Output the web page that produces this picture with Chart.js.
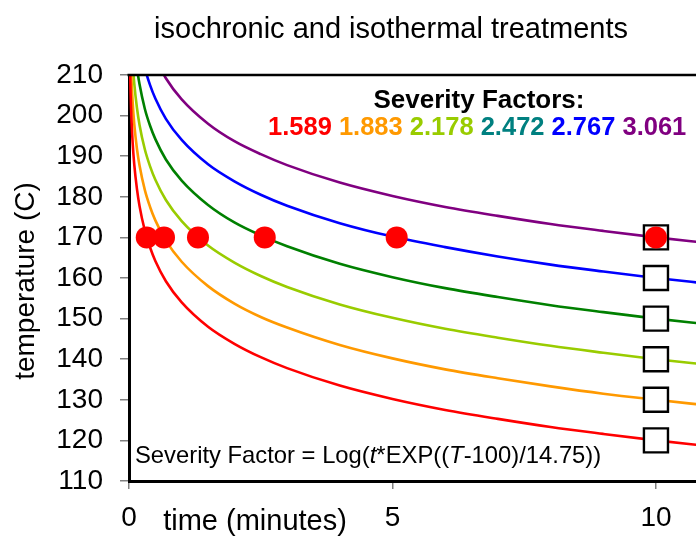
<!DOCTYPE html>
<html>
<head>
<meta charset="utf-8">
<script src="https://cdn.jsdelivr.net/npm/chart.js@4/dist/chart.umd.min.js"></script>
<style>
html,body{margin:0;padding:0;background:#fff;}
#wrap{width:696px;height:536px;position:relative;}
</style>
</head>
<body>
<div id="wrap"><canvas id="c" width="696" height="536"></canvas></div>
<script>
// ---- data ----
const times = [0.02,0.03,0.05,0.07,0.1,0.15,0.2,0.3,0.4,0.5,0.7,1,1.5,2,2.5,3,4,5,6,7,8,9,10,11];
const sf1589 = [211.7,205.7,198.2,193.2,187.9,182.0,177.7,171.7,167.5,164.2,159.2,154.0,148.0,143.8,140.5,137.8,133.5,130.2,127.5,125.3,123.3,121.6,120.0,118.6];
const sf1883 = [221.7,215.7,208.1,203.2,197.9,191.9,187.7,181.7,177.5,174.2,169.2,164.0,158.0,153.7,150.4,147.8,143.5,140.2,137.5,135.3,133.3,131.5,130.0,128.6];
const sf2178 = [231.7,225.7,218.2,213.2,207.9,202.0,197.7,191.7,187.5,184.2,179.2,174.0,168.0,163.8,160.5,157.8,153.5,150.2,147.5,145.3,143.3,141.6,140.0,138.6];
const sf2472 = [241.7,235.7,228.2,223.2,217.9,211.9,207.7,201.7,197.5,194.2,189.2,184.0,178.0,173.7,170.5,167.8,163.5,160.2,157.5,155.3,153.3,151.6,150.0,148.6];
const sf2767 = [251.7,245.7,238.2,233.2,227.9,222.0,217.7,211.7,207.5,204.2,199.2,194.0,188.0,183.8,180.5,177.8,173.5,170.2,167.6,165.3,163.3,161.6,160.0,158.6];
const sf3061 = [261.7,255.7,248.2,243.2,237.9,231.9,227.7,221.7,217.5,214.2,209.2,204.0,198.0,193.7,190.5,187.8,183.5,180.2,177.5,175.3,173.3,171.6,170.0,168.6];
const sfLabels = ['1.589','1.883','2.178','2.472','2.767','3.061'];
// isothermal treatments (170 C, varying time)
const isothermalTimes = [0.337,0.664,1.309,2.576,5.08,10.0];
const isothermalTemps = [170,170,170,170,170,170];
// isochronic treatments (10 min, varying temperature)
const isochronicTimes = [10,10,10,10,10,10];
const isochronicTemps = [120,130,140,150,160,170];
const xTicks = [0,5,10];
const yTicks = [110,120,130,140,150,160,170,180,190,200,210];

const curveColors = ['#FF0000','#FF9900','#99CC00','#008000','#0000FF','#800080'];
const labelColors = ['#FF0000','#FF9900','#99CC00','#008080','#0000FF','#800080'];
const curves = [sf1589,sf1883,sf2178,sf2472,sf2767,sf3061];

const F = '"Liberation Sans", Arial, sans-serif';

const datasets = [];
datasets.push({
  label:'isothermal',
  data: isothermalTimes.map((t,i)=>({x:t,y:isothermalTemps[i]})),
  showLine:false, pointRadius:11, pointHoverRadius:11,
  backgroundColor:'#FF0000', borderWidth:0, pointBorderWidth:0
});
datasets.push({
  label:'isochronic',
  data: isochronicTimes.map((t,i)=>({x:t,y:isochronicTemps[i]})),
  showLine:false, pointStyle:'rect', pointRadius:17, pointHoverRadius:17,
  backgroundColor:'#FFFFFF', borderColor:'#000000', pointBorderWidth:2.4, borderWidth:2.4
});
curves.forEach((vals,k)=>{
  datasets.push({
    label:'SF '+sfLabels[k],
    data: times.map((t,i)=>({x:t,y:vals[i]})),
    showLine:true,
    borderColor:curveColors[k], backgroundColor:curveColors[k], borderWidth:2.6, pointRadius:0, pointHoverRadius:0,
    cubicInterpolationMode:'monotone', fill:false
  });
});

const textPlugin = {
  id:'texts',
  afterDraw(chart){
    const ctx = chart.ctx, a = chart.chartArea;
    ctx.save();
    // top border
    ctx.strokeStyle = '#000'; ctx.lineWidth = 2.5;
    ctx.beginPath(); ctx.moveTo(a.left-1.5, a.top); ctx.lineTo(a.right, a.top); ctx.stroke();
    ctx.fillStyle = '#000';
    ctx.textBaseline = 'alphabetic';
    // title
    ctx.font = '29px ' + F; ctx.textAlign = 'center';
    ctx.fillText('isochronic and isothermal treatments', 391, 38);
    // x title
    ctx.fillText('time (minutes)', 255, 530);
    // y title
    ctx.save();
    ctx.translate(34, 281); ctx.rotate(-Math.PI/2);
    ctx.font = '28px ' + F; ctx.textAlign = 'center';
    ctx.fillText('temperature (C)', 0, 0);
    ctx.restore();
    // legend heading
    ctx.font = 'bold 26px ' + F; ctx.textAlign = 'center';
    ctx.fillText('Severity Factors:', 479, 108);
    // coloured numbers
    ctx.font = 'bold 25.5px ' + F; ctx.textAlign = 'left';
    let x = 268;
    const sp = ctx.measureText(' ').width;
    sfLabels.forEach((s,i)=>{
      ctx.fillStyle = labelColors[i];
      ctx.fillText(s, x, 135);
      x += ctx.measureText(s).width + sp;
    });
    // formula
    ctx.fillStyle = '#000';
    const parts = [['Severity Factor = Log(',false],['t',true],['*EXP((',false],['T',true],['-100)/14.75))',false]];
    x = 135;
    parts.forEach(([s,it])=>{
      ctx.font = (it?'italic ':'') + '23.8px ' + F;
      ctx.fillText(s, x, 463);
      x += ctx.measureText(s).width;
    });
    ctx.restore();
  }
};

new Chart(document.getElementById('c'), {
  type:'scatter',
  data:{datasets},
  options:{
    responsive:false, animation:false,
    layout:{autoPadding:false, padding:{left:0,right:0,top:75,bottom:0}},
    plugins:{legend:{display:false}, tooltip:{enabled:false}, title:{display:false}},
    scales:{
      x:{
        type:'linear', min:0, max:10.76,
        afterFit(s){ s.height = 55; s.paddingRight = 0; s.paddingLeft = 0; },
        afterBuildTicks(s){ s.ticks = xTicks.map(v=>({value:v})); },
        grid:{display:true, drawOnChartArea:false, drawTicks:true, tickLength:8, color:'#808080', lineWidth:1.5},
        border:{display:true, color:'#000', width:3},
        ticks:{font:{family:F, size:28}, color:'#000', padding:12, maxRotation:0}
      },
      y:{
        type:'linear', min:110, max:210,
        afterFit(s){ s.width = 129; },
        afterBuildTicks(s){ s.ticks = yTicks.map(v=>({value:v})); },
        grid:{display:true, drawOnChartArea:false, drawTicks:true, tickLength:9, color:'#808080', lineWidth:1.5},
        border:{display:true, color:'#000', width:3},
        ticks:{font:{family:F, size:28}, color:'#000', padding:17}
      }
    }
  },
  plugins:[textPlugin]
});
</script>
</body>
</html>
